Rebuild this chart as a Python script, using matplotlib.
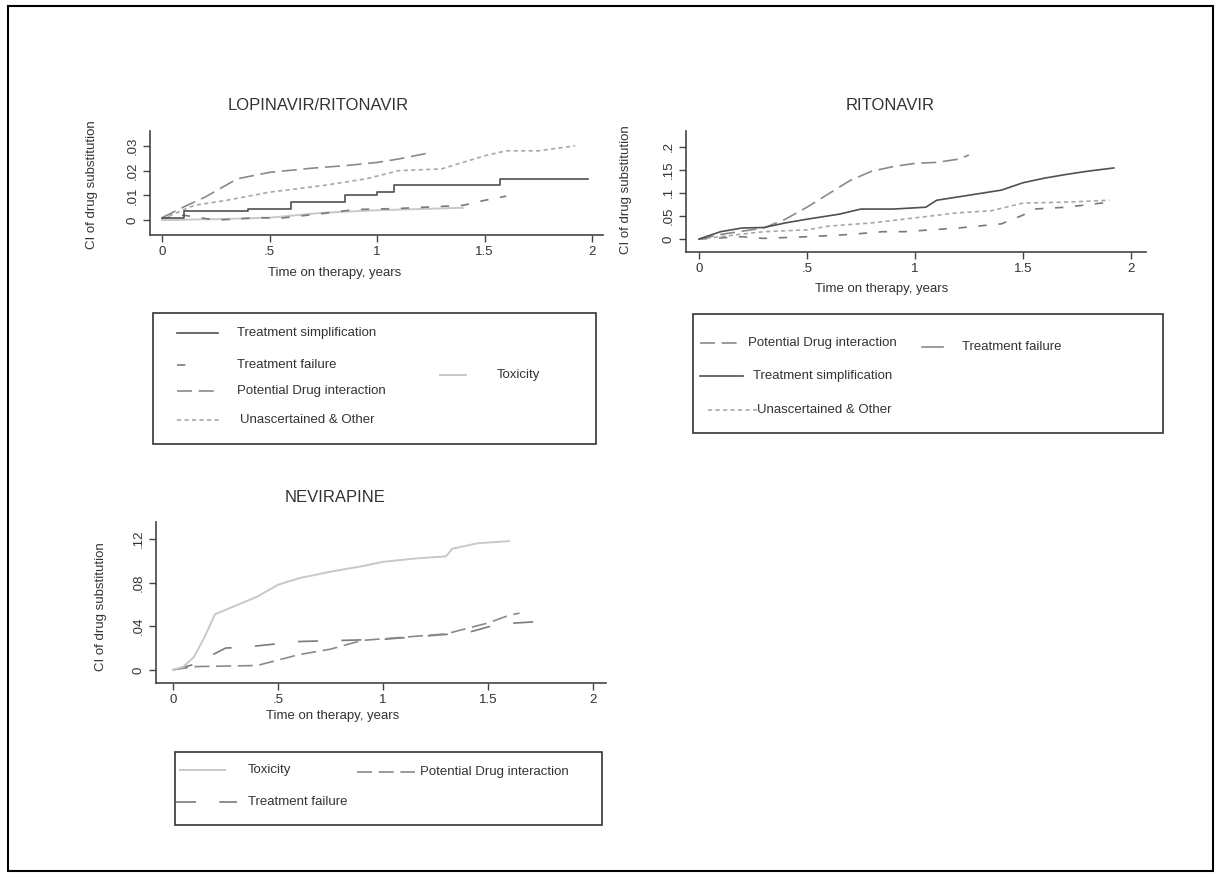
import matplotlib
matplotlib.use("Agg")
import matplotlib.pyplot as plt
from matplotlib.lines import Line2D
from matplotlib.patches import Rectangle

plt.rcParams["font.family"] = ["Liberation Sans", "DejaVu Sans"]

W, H = 1221, 877

# ---- LOPINAVIR/RITONAVIR ----
lpv_simp_t = [0, 0.1, 0.4, 0.6, 0.85, 1.0, 1.08, 1.57, 1.98]
lpv_simp_y = [0.001, 0.0037, 0.0047, 0.0073, 0.010, 0.0113, 0.0143, 0.0167, 0.0167]
lpv_fail_t = [0, 0.1, 0.25, 0.45, 0.55, 0.75, 0.9, 1.1, 1.4, 1.5, 1.6]
lpv_fail_y = [0.0007, 0.002, 0.0, 0.001, 0.0008, 0.0027, 0.0043, 0.0047, 0.006, 0.008, 0.0097]
lpv_pdi_t = [0, 0.1, 0.2, 0.35, 0.5, 0.7, 0.85, 1.0, 1.1, 1.25]
lpv_pdi_y = [0.001, 0.0053, 0.0093, 0.0167, 0.0193, 0.021, 0.022, 0.0233, 0.0247, 0.0273]
lpv_unas_t = [0, 0.15, 0.3, 0.5, 0.75, 0.95, 1.1, 1.3, 1.5, 1.6, 1.75, 1.92]
lpv_unas_y = [0.0005, 0.006, 0.008, 0.0113, 0.014, 0.0167, 0.020, 0.0207, 0.026, 0.028, 0.028, 0.030]
lpv_tox_t = [0, 0.3, 0.5, 0.75, 1.0, 1.2, 1.4]
lpv_tox_y = [0.0, 0.0005, 0.001, 0.003, 0.004, 0.0045, 0.005]

# ---- RITONAVIR ----
rtv_pdi_t = [0, 0.1, 0.3, 0.4, 0.5, 0.6, 0.7, 0.8, 0.9, 1.0, 1.1, 1.2, 1.25]
rtv_pdi_y = [0, 0.01, 0.024, 0.043, 0.069, 0.098, 0.127, 0.147, 0.157, 0.164, 0.166, 0.173, 0.182]
rtv_simp_t = [0, 0.1, 0.2, 0.3, 0.4, 0.5, 0.65, 0.75, 0.9, 1.05, 1.1, 1.25, 1.4, 1.5, 1.6, 1.7, 1.8, 1.92]
rtv_simp_y = [0, 0.016, 0.024, 0.025, 0.035, 0.043, 0.054, 0.065, 0.065, 0.069, 0.084, 0.095,
              0.106, 0.122, 0.132, 0.14, 0.147, 0.154]
rtv_unas_t = [0, 0.3, 0.5, 0.6, 0.8, 1.0, 1.2, 1.35, 1.5, 1.7, 1.9]
rtv_unas_y = [0, 0.016, 0.02, 0.028, 0.035, 0.046, 0.057, 0.061, 0.078, 0.08, 0.084]
rtv_fail_t = [0, 0.2, 0.3, 0.5, 0.7, 0.85, 0.95, 1.2, 1.4, 1.5, 1.55, 1.7, 1.9]
rtv_fail_y = [0, 0.005, 0.0015, 0.005, 0.01, 0.016, 0.016, 0.024, 0.033, 0.052, 0.065, 0.069, 0.08]

# ---- NEVIRAPINE ----
nvp_tox_t = [0, 0.05, 0.1, 0.15, 0.2, 0.3, 0.4, 0.5, 0.6, 0.75, 0.9, 1.0, 1.15, 1.3, 1.33, 1.45, 1.6]
nvp_tox_y = [0, 0.003, 0.012, 0.030, 0.051, 0.059, 0.067, 0.078, 0.084, 0.090, 0.095, 0.099,
             0.102, 0.104, 0.111, 0.116, 0.118]
nvp_pdi_t = [0, 0.1, 0.4, 0.5, 0.6, 0.75, 0.9, 1.1, 1.3, 1.5, 1.6, 1.65]
nvp_pdi_y = [0, 0.003, 0.004, 0.009, 0.014, 0.019, 0.027, 0.030, 0.033, 0.043, 0.050, 0.052]
nvp_fail_t = [0, 0.1, 0.15, 0.25, 0.35, 0.6, 1.0, 1.2, 1.4, 1.55, 1.8]
nvp_fail_y = [0, 0.005, 0.010, 0.020, 0.021, 0.026, 0.028, 0.031, 0.034, 0.042, 0.045]

x_ticks = [0, 0.5, 1, 1.5, 2]
x_labels = ["0", ".5", "1", "1.5", "2"]
lpv_yticks = [0, 0.01, 0.02, 0.03]
lpv_ylabels = ["0", ".01", ".02", ".03"]
rtv_yticks = [0, 0.05, 0.1, 0.15, 0.2]
rtv_ylabels = ["0", ".05", ".1", ".15", ".2"]
nvp_yticks = [0, 0.04, 0.08, 0.12]
nvp_ylabels = ["0", ".04", ".08", ".12"]

# line styles by cause
STY = {
    "simp": dict(color="#505050", ls="-", lw=1.2),
    "fail": dict(color="#7a7a7a", ls=(0, (5, 7)), lw=1.2),
    "fail_key": dict(color="#8a8a8a", ls="-", lw=1.2),
    "fail_long": dict(color="#7a7a7a", ls=(0, (12, 14)), lw=1.2),
    "pdi": dict(color="#8a8a8a", ls=(0, (9, 4)), lw=1.2),
    "unas": dict(color="#a8a8a8", ls=(0, (2.5, 2)), lw=1.2),
    "tox": dict(color="#c8c8c8", ls="-", lw=1.4),
}
TXT = "#333333"
TICK_FS = 9.5
LAB_FS = 9.5
LEG_FS = 9.5
TITLE_FS = 12

fig = plt.figure(figsize=(W / 100, H / 100), dpi=100)


def fy(y):
    return 1 - y / H


def make_axes(left, top, right, bottom, xlim, ylim, yticks, ylabels):
    ax = fig.add_axes([left / W, 1 - bottom / H, (right - left) / W, (bottom - top) / H])
    ax.set_xlim(*xlim)
    ax.set_ylim(*ylim)
    for s in ["top", "right"]:
        ax.spines[s].set_visible(False)
    for s in ["left", "bottom"]:
        ax.spines[s].set_color("#444444")
        ax.spines[s].set_linewidth(1.2)
    ax.set_xticks(x_ticks)
    ax.set_xticklabels(x_labels)
    ax.set_yticks(yticks)
    ax.set_yticklabels(ylabels, rotation=90, va="center")
    ax.tick_params(colors="#444444", labelcolor=TXT, labelsize=TICK_FS, length=5, width=1, pad=3)
    ax.patch.set_alpha(0)
    return ax


def title(x, y, s):
    fig.text(x / W, fy(y), s, ha="center", va="center", fontsize=TITLE_FS, color=TXT)


def axis_texts(xl, yl):
    fig.text(xl[0] / W, fy(xl[1]), "Time on therapy, years", ha="center", va="center",
             fontsize=LAB_FS, color=TXT)
    fig.text(yl[0] / W, fy(yl[1]), "CI of drug substitution", ha="center", va="center",
             fontsize=LAB_FS, color=TXT, rotation=90)


def leg_box(x0, y0, x1, y1):
    fig.add_artist(Rectangle((x0 / W, fy(y1)), (x1 - x0) / W, (y1 - y0) / H,
                             transform=fig.transFigure, fill=False, ec="#333333", lw=1.2))


def leg_entry(x0, x1, y, key, tx, label):
    fig.add_artist(Line2D([x0 / W, x1 / W], [fy(y), fy(y)], transform=fig.transFigure, **STY[key]))
    fig.text(tx / W, fy(y), label, ha="left", va="center", fontsize=LEG_FS, color=TXT)


# ---- panel 1 ----
ax1 = make_axes(150, 131, 603, 235, (-0.056, 2.05), (-0.006, 0.036), lpv_yticks, lpv_ylabels)
ax1.plot(lpv_tox_t, lpv_tox_y, **STY["tox"])
ax1.plot(lpv_fail_t, lpv_fail_y, **STY["fail"])
ax1.plot(lpv_unas_t, lpv_unas_y, **STY["unas"])
ax1.plot(lpv_pdi_t, lpv_pdi_y, **STY["pdi"])
ax1.plot(lpv_simp_t, lpv_simp_y, drawstyle="steps-post", **STY["simp"])
title(318, 106, "LOPINAVIR/RITONAVIR")
axis_texts((335, 273), (92, 185))

leg_box(153, 313, 596, 444)
leg_entry(177, 218, 333, "simp", 237, "Treatment simplification")
leg_entry(177, 193, 365, "fail", 237, "Treatment failure")
leg_entry(177, 220, 391, "pdi", 237, "Potential Drug interaction")
leg_entry(177, 220, 420, "unas", 240, "Unascertained & Other")
leg_entry(440, 466, 375, "tox", 497, "Toxicity")

# ---- panel 2 ----
ax2 = make_axes(686, 131, 1146, 252, (-0.06, 2.069), (-0.028, 0.234), rtv_yticks, rtv_ylabels)
ax2.plot(rtv_fail_t, rtv_fail_y, **STY["fail"])
ax2.plot(rtv_unas_t, rtv_unas_y, **STY["unas"])
ax2.plot(rtv_pdi_t, rtv_pdi_y, **STY["pdi"])
ax2.plot(rtv_simp_t, rtv_simp_y, **STY["simp"])
title(890, 105, "RITONAVIR")
axis_texts((882, 289), (626, 190))

leg_box(693, 314, 1163, 433)
leg_entry(700, 740, 343, "pdi", 748, "Potential Drug interaction")
leg_entry(922, 943, 347, "fail_key", 962, "Treatment failure")
leg_entry(700, 743, 376, "simp", 753, "Treatment simplification")
leg_entry(708, 757, 410, "unas", 757, "Unascertained & Other")

# ---- panel 3 ----
ax3 = make_axes(156, 522, 606, 683, (-0.081, 2.062), (-0.012, 0.1355), nvp_yticks, nvp_ylabels)
ax3.plot(nvp_fail_t, nvp_fail_y, **STY["fail_long"])
ax3.plot(nvp_pdi_t, nvp_pdi_y, **STY["pdi"])
ax3.plot(nvp_tox_t, nvp_tox_y, **STY["tox"])
title(335, 497, "NEVIRAPINE")
axis_texts((333, 716), (101, 607))

leg_box(175, 752, 602, 825)
leg_entry(180, 225, 770, "tox", 248, "Toxicity")
leg_entry(357, 415, 772, "pdi", 420, "Potential Drug interaction")
leg_entry(176, 237, 802, "fail_long", 248, "Treatment failure")

# outer frame
fig.add_artist(Rectangle((8 / W, fy(871)), (1213 - 8) / W, (871 - 6) / H,
                         transform=fig.transFigure, fill=False, ec="black", lw=1.5))

fig.savefig("out.png", dpi=100)
